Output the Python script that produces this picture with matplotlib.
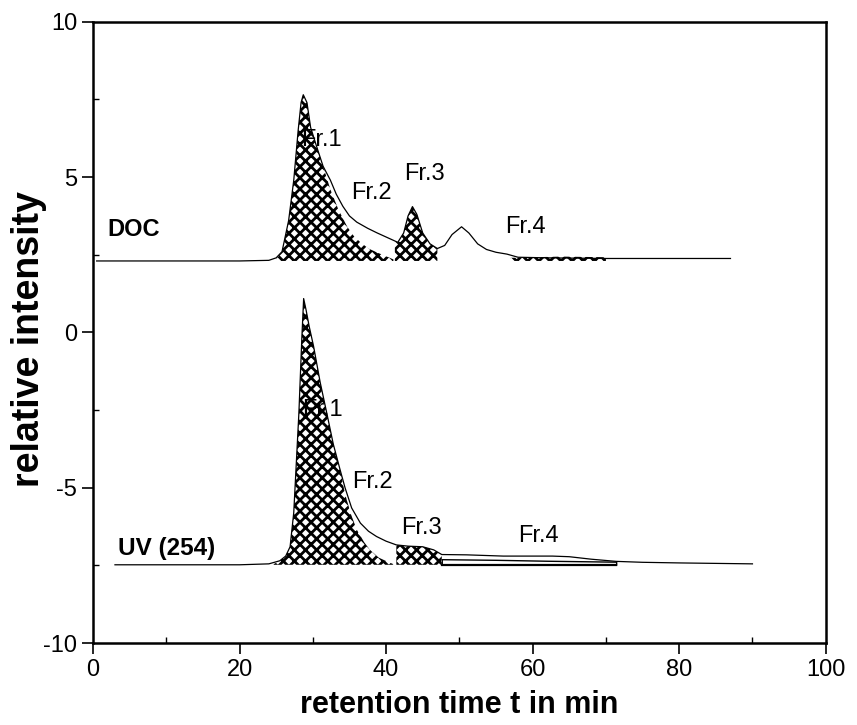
import numpy as np
import matplotlib
matplotlib.use('Agg')
import matplotlib.pyplot as plt
from matplotlib.ticker import MultipleLocator

plt.rcParams['font.family'] = ['Liberation Sans', 'DejaVu Sans']
plt.rcParams['axes.unicode_minus'] = False
plt.rcParams['hatch.linewidth'] = 2.0

#%% datos: DOC
doc_t = [0.5, 10, 20, 24, 25, 25.8, 26.7, 27.4, 28.0, 28.4, 28.7, 29.2, 29.7, 30.5,
         31.4, 32.4, 33.2, 34.1, 35.0, 36.0, 37.5, 38.8, 40.2, 41.6, 42.4, 43.0,
         43.6, 44.2, 45.0, 46.0, 47.0, 48.0, 49.0, 50.3, 51.3, 52.5, 53.7, 55.0,
         56.5, 58, 62, 70, 80, 87]
doc_y = [2.3, 2.3, 2.3, 2.32, 2.4, 2.6, 3.6, 4.9, 6.5, 7.4, 7.65, 7.4, 6.6, 6.0,
         5.35, 4.9, 4.45, 4.06, 3.75, 3.55, 3.35, 3.2, 3.05, 2.9, 3.2, 3.75,
         4.05, 3.8, 3.2, 2.85, 2.7, 2.8, 3.15, 3.4, 3.2, 2.85, 2.67, 2.58,
         2.52, 2.42, 2.4, 2.38, 2.38, 2.38]
doc_base = 2.3

doc_fr1_t = [25, 25.8, 26.7, 27.4, 28.0, 28.4, 28.7, 29.2, 29.7, 30.5, 31.4, 32.4,
             33.5, 34.7, 35.6, 36.5, 37.6, 38.8, 40.0, 41.0]
doc_fr1_y = [2.35, 2.6, 3.6, 4.9, 6.5, 7.4, 7.65, 7.4, 6.6, 6.0, 5.35, 4.6,
             3.95, 3.4, 3.1, 2.9, 2.7, 2.57, 2.45, 2.35]
doc_fr3_t = [41.2, 41.6, 42.4, 43.0, 43.6, 44.2, 45.0, 46.0, 47.0]
doc_fr3_y = [2.93, 2.9, 3.2, 3.75, 4.05, 3.8, 3.2, 2.85, 2.7]
doc_fr4_t = [57, 60, 64, 70]
doc_fr4_y = [2.4, 2.42, 2.44, 2.42]

#%% datos: UV (254)
uv_t = [3, 10, 20, 24, 25.5, 26.3, 26.9, 27.4, 28.1, 28.5, 28.75, 29.1, 29.5,
        30.1, 31.0, 31.9, 32.8, 33.7, 34.4, 35.3, 36.5, 37.6, 38.7, 40.0, 41.4,
        43.0, 45.0, 46.5, 47.6, 51.0, 56.0, 62.7, 65.0, 68.0, 71.4, 75, 80, 90]
uv_y = [-7.48, -7.48, -7.48, -7.45, -7.35, -7.2, -6.9, -5.8, -2.6, -0.2, 1.09, 0.7, 0.2,
        -0.44, -1.6, -2.59, -3.6, -4.4, -5.0, -5.65, -6.14, -6.4, -6.57, -6.72, -6.84,
        -6.88, -6.9, -7.0, -7.15, -7.16, -7.2, -7.2, -7.22, -7.3, -7.37, -7.4, -7.42, -7.45]
uv_base = -7.48

uv_fr1_t = [24.5, 25.5, 26.3, 26.9, 27.4, 28.1, 28.5, 28.75, 29.1, 29.5, 30.1, 31.0,
            31.9, 32.8, 33.7, 34.4, 35.2, 36.0, 37.0, 37.8, 39.0, 40.1, 41.2]
uv_fr1_y = [-7.48, -7.35, -7.2, -6.9, -5.8, -2.6, -0.2, 1.09, 0.7, 0.2, -0.44, -1.6,
            -2.59, -3.6, -4.4, -5.2, -5.85, -6.35, -6.75, -7.0, -7.25, -7.37, -7.48]
uv_fr3_t = [41.4, 43.0, 45.0, 46.5, 47.6]
uv_fr3_y = [-6.84, -6.88, -6.9, -7.0, -7.15]
uv_fr4_t = [47.6, 55, 62, 71.4]
uv_fr4_y = [-7.3, -7.32, -7.35, -7.38]

#%% etiquetas
doc_labels = [('Fr.1', 31.2, 6.2), ('Fr.2', 38.0, 4.5), ('Fr.3', 45.3, 5.1), ('Fr.4', 59.0, 3.4)]
uv_labels = [('Fr.1', 31.3, -2.5), ('Fr.2', 38.2, -4.8), ('Fr.3', 44.8, -6.3), ('Fr.4', 60.8, -6.55)]

#%% figura
fig = plt.figure(figsize=(8.57, 7.25), dpi=100)
ax = fig.add_axes([0.1085, 0.113, 0.855, 0.857])

def hatched(t, y, base):
    ax.fill_between(t, y, base, facecolor='white', edgecolor='black',
                    hatch='xxx', linewidth=0)

hatched(doc_fr1_t, doc_fr1_y, doc_base)
hatched(doc_fr3_t, doc_fr3_y, doc_base)
hatched(doc_fr4_t, doc_fr4_y, doc_base)
hatched(uv_fr1_t, uv_fr1_y, uv_base)
hatched(uv_fr3_t, uv_fr3_y, uv_base)

# Fr.4 en UV: area sin relleno, solo contorno
ax.fill_between(uv_fr4_t, uv_fr4_y, uv_base, facecolor='white', edgecolor='black', linewidth=1.0)

ax.plot(doc_t, doc_y, color='black', linewidth=0.9)
ax.plot(uv_t, uv_y, color='black', linewidth=0.9)
ax.plot([uv_fr4_t[0], uv_fr4_t[-1]], [uv_base, uv_base], color='black', linewidth=1.6)

for txt, x, y in doc_labels + uv_labels:
    ax.text(x, y, txt, fontsize=17, ha='center', va='center')
ax.text(2.0, 3.3, 'DOC', fontsize=17, fontweight='bold', va='center')
ax.text(3.4, -6.95, 'UV (254)', fontsize=17.5, fontweight='bold', va='center')

ax.set_xlim(0, 100)
ax.set_ylim(-10, 10)
ax.xaxis.set_major_locator(MultipleLocator(20))
ax.xaxis.set_minor_locator(MultipleLocator(10))
ax.yaxis.set_major_locator(MultipleLocator(5))
ax.yaxis.set_minor_locator(MultipleLocator(2.5))
ax.tick_params(which='major', direction='out', length=8, width=1.2, labelsize=17)
ax.tick_params(which='minor', direction='in', length=4, width=1.0)
for s in ax.spines.values():
    s.set_linewidth(1.8)

ax.set_xlabel('retention time t in min', fontsize=22, fontweight='bold')
ax.xaxis.set_label_coords(0.5, -0.076)
ax.set_ylabel('relative intensity', fontsize=27, fontweight='bold')
ax.yaxis.set_label_coords(-0.063, 0.49)

fig.savefig('out.png', dpi=100)
